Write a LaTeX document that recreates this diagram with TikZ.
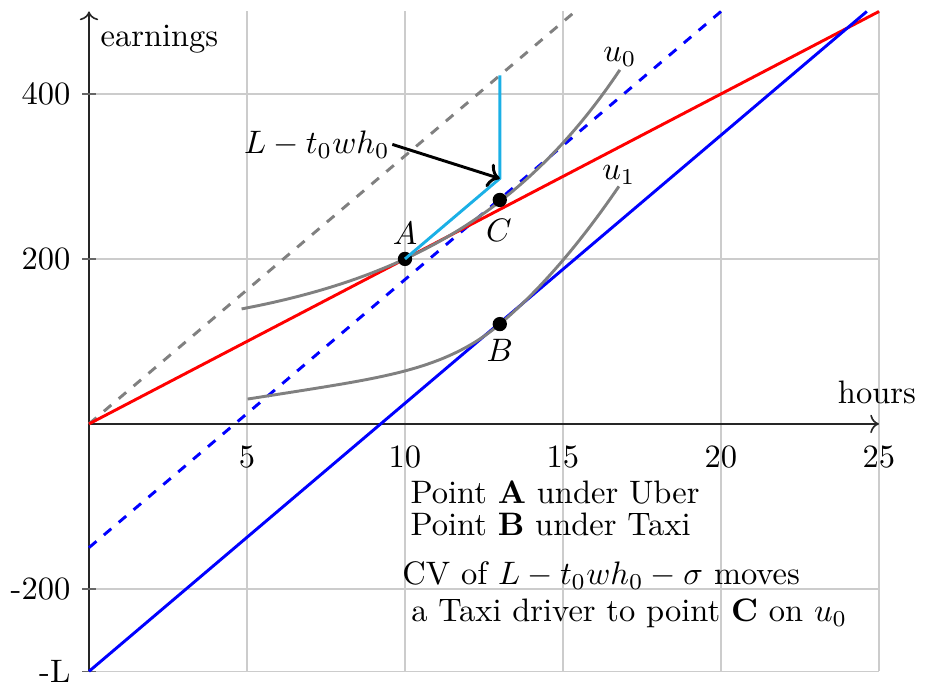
\documentclass[tikz,border=0pt]{standalone}
\usetikzlibrary{arrows.meta}
\definecolor{cyanline}{RGB}{27,176,230}
\begin{document}
\begin{tikzpicture}[x=9.723pt, y=0.2538pt,
  gridline/.style={gray!40, line width=0.45pt},
  axisline/.style={black!85, line width=0.5pt},
  tickmark/.style={black!60, line width=0.45pt},
  curve/.style={line width=0.9pt},
  dot/.style={circle, fill=black, inner sep=0pt, minimum size=4.4pt},
  lbl/.style={inner sep=0pt}]
\useasboundingbox (-2.816,-321.2) rectangle (26.456,513.9);
% grid
\foreach \gx in {5,10,15,20,25} \draw[gridline] (\gx,-300) -- (\gx,500);
\foreach \gy in {-300,-200,200,400} \draw[gridline] (0,\gy) -- (25,\gy);
% axes
\draw[axisline,->] (0,-300) -- (0,500);
\draw[axisline,->] (0,0) -- (25,0);
\foreach \gy in {-300,-200,200,400} \draw[tickmark] (-0.22,\gy) -- (0.22,\gy);
% tick labels
\node[lbl, anchor=east] (y400) at (-0.57,400) {400};
\node[lbl, anchor=east] (y200) at (-0.57,200) {200};
\node[lbl, anchor=east] (ym200) at (-0.57,-200) {-200};
\node[lbl, anchor=east] (yL) at (-0.57,-300) {-L};
\foreach \gx in {5,10,15,20,25} \node[lbl, anchor=north] (x\gx) at (\gx,-25.5) {\gx};
\node[lbl, anchor=base west] (ylab) at (0.348,457.6) {earnings};
\node[lbl, anchor=base west] (xlab) at (23.68,25.1) {hours};
% coordinates
\coordinate (O) at (0,0);
\coordinate (G) at (15.385,500);
\coordinate (R) at (25,500);
\coordinate (BL0) at (0,-300);
\coordinate (BL1) at (24.615,500);
\coordinate (BD0) at (0,-150);
\coordinate (BD1) at (20,500);
\coordinate (K) at (13,297.5);
\coordinate (T) at (13,422.5);
% lines
\draw[curve, gray, dashed] (O) -- (G);
\draw[curve, blue, dashed] (BD0) -- (BD1);
\draw[curve, red] (O) -- (R);
\draw[curve, blue] (BL0) -- (BL1);
% indifference curves
\draw[curve, gray] plot[domain=4.83:16.8, samples=60] ({\x}, {97.3+18.3*exp(0.1725*\x)});
\draw[curve, gray] plot[domain=5.02:13, samples=50] ({\x}, {30+6*(\x-5)+43*((\x-5)/8)^4.93})
  -- plot[domain=13:16.77, samples=30] ({\x}, {121+32.5*(\x-13)+3.13*(\x-13)*(\x-13)});
% cyan
\node[dot] (A) at (10,200) {};
\draw[curve, cyanline] (A.center) -- (K) -- (T);
\node[dot] (C) at (13,271.5) {};
\node[dot] (B) at (13,121) {};
% labels
\node[lbl] (Alab) at (10,231.5) {$A$};
\node[lbl] (Clab) at (12.97,234.3) {$C$};
\node[lbl] (Blab) at (13,89.7) {$B$};
\node[lbl, anchor=base] (u0) at (16.8,439) {$u_0$};
\node[lbl, anchor=base] (u1) at (16.77,296.4) {$u_1$};
\node[inner sep=0.6pt, anchor=base east] (Lt) at (9.6,328.1) {$L-t_0wh_0$};
\draw[curve, black, ->] (Lt.east) -- (K);
% annotation
\node[lbl, anchor=base west] (n1) at (10.16,-96.1) {Point \textbf{A} under Uber};
\node[lbl, anchor=base west] (n2) at (10.16,-135.8) {Point \textbf{B} under Taxi};
\node[lbl, anchor=base west] (n3) at (9.9,-195.2) {CV of $L-t_0wh_0-\sigma$ moves};
\node[lbl, anchor=base west] (n4) at (10.18,-239.6) {a Taxi driver to point \textbf{C} on $u_0$};
\end{tikzpicture}
\end{document}
